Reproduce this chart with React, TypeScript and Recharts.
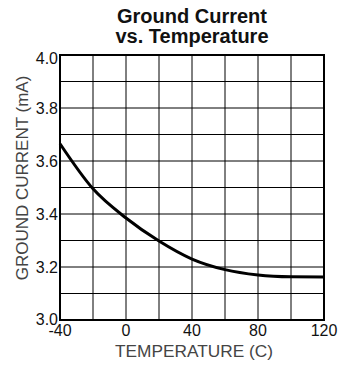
import React from 'react';
import { LineChart, Line, XAxis, YAxis, CartesianGrid, ReferenceArea } from 'recharts';

const temperatures = [-40, -20, 0, 20, 40, 60, 80, 100, 120];
const groundCurrent = [3.665, 3.495, 3.385, 3.298, 3.23, 3.19, 3.17, 3.163, 3.162];
const xTicks = [-40, -20, 0, 20, 40, 60, 80, 100, 120];
const yTicks = [3.0, 3.1, 3.2, 3.3, 3.4, 3.5, 3.6, 3.7, 3.8, 3.9, 4.0];
const xLabelled = [-40, 0, 40, 80, 120];
const yLabelled = ['3.0', '3.2', '3.4', '3.6', '3.8', '4.0'];
const titleLines = ['Ground Current', 'vs. Temperature'];
const xTitle = 'TEMPERATURE (C)';
const yTitle = 'GROUND CURRENT (mA)';

const data = temperatures.map((t, i) => ({ t, v: groundCurrent[i] }));
const FONT = "'Liberation Sans', Arial, sans-serif";

const XTick = (props: any) => {
  const { x, y, payload } = props;
  const v = payload.value;
  if (!xLabelled.includes(v)) return null;
  return (
    <text x={x} y={y + 8} textAnchor="middle" fontSize={16} fill="#111" fontFamily={FONT}>
      {v}
    </text>
  );
};

const YTick = (props: any) => {
  const { x, y, payload } = props;
  const s = Number(payload.value).toFixed(1);
  if (!yLabelled.includes(s)) return null;
  let dy = 0;
  if (s === '4.0') dy = 3;
  if (s === '3.0') dy = -1;
  return (
    <text x={x + 6} y={y + dy + 6} textAnchor="end" fontSize={16} fill="#111" fontFamily={FONT}>
      {s}
    </text>
  );
};

export default function App() {
  return (
    <div style={{ position: 'absolute', left: 0, top: 0, width: 344, height: 365, background: '#fff' }}>
      <LineChart width={344} height={365} data={data} margin={{ top: 55, right: 20, bottom: 15, left: 0 }}>
        <CartesianGrid stroke="#000" strokeWidth={1} strokeOpacity={1} />
        <XAxis dataKey="t" type="number" domain={[-40, 120]} ticks={xTicks} height={30} tickLine={false} axisLine={false} tick={<XTick />} interval={0} />
        <YAxis type="number" domain={[3, 4]} ticks={yTicks} width={60} tickLine={false} axisLine={false} tick={<YTick />} interval={0} />
        <ReferenceArea x1={-40} x2={120} y1={3} y2={4} fill="none" stroke="#000" strokeWidth={2} ifOverflow="visible" />
        <Line type="monotone" dataKey="v" stroke="#000" strokeWidth={3} dot={false} isAnimationActive={false} />
      </LineChart>
      <svg width={344} height={365} style={{ position: 'absolute', left: 0, top: 0, pointerEvents: 'none' }}>
        <text x={192} y={23} textAnchor="middle" fontSize={20} fontWeight="bold" fill="#111" fontFamily={FONT}>{titleLines[0]}</text>
        <text x={192} y={43} textAnchor="middle" fontSize={20} fontWeight="bold" fill="#111" fontFamily={FONT}>{titleLines[1]}</text>
        <text x={194} y={356.5} textAnchor="middle" fontSize={17.3} fill="#444" fontFamily={FONT}>{xTitle}</text>
        <text x={0} y={0} transform="translate(28,178) rotate(-90)" textAnchor="middle" fontSize={17} fill="#444" fontFamily={FONT}>{yTitle}</text>
      </svg>
    </div>
  );
}
